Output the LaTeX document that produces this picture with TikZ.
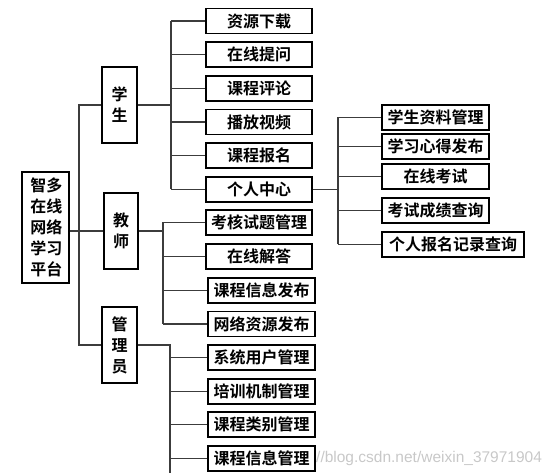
\documentclass[tikz,border=0pt]{standalone}
\usepackage{fontspec}
\newfontfamily\cjk{Noto Sans CJK SC}[BoldFont={Noto Sans CJK SC Bold}]
\setsansfont{Liberation Sans}
\definecolor{linegray}{RGB}{60,60,60}
\definecolor{wmgray}{RGB}{200,200,200}
\tikzset{
  box/.style={draw=black, line width=1.3pt, fill=white, inner sep=0pt, minimum height=25pt,
    font=\cjk\bfseries\fontsize{16}{21}\selectfont, text=black},
  vbox/.style={box, align=center, text width=30pt},
  conn/.style={draw=linegray, line width=1.4pt},
}
\begin{document}
\begin{tikzpicture}[x=1pt,y=-1pt]
\useasboundingbox (0,0) rectangle (560,473);
\clip (0,0) rectangle (560,473);
% watermark
\node[anchor=west, font=\sffamily\fontsize{15.5}{18}\selectfont, text=wmgray, inner sep=0pt] (wm) at (316,458) {//blog.csdn.net/weixin\_37971904};
% main nodes
\node[vbox, minimum width=47pt, minimum height=111pt] (root) at (45.5,227.5) {智多\\在线\\网络\\学习\\平台};
\node[vbox, minimum width=35pt, minimum height=76pt] (stu) at (119.5,105) {学\\生};
\node[vbox, minimum width=34pt, minimum height=76pt] (tea) at (121,231) {教\\师};
\node[vbox, minimum width=35pt, minimum height=76pt] (adm) at (119.5,345) {管\\理\\员};
% student children
\node[box, minimum width=106pt] (s1) at (259,21) {资源下载};
\node[box, minimum width=106pt] (s2) at (259,54.5) {在线提问};
\node[box, minimum width=106pt] (s3) at (259,88.5) {课程评论};
\node[box, minimum width=106pt] (s4) at (259,122) {播放视频};
\node[box, minimum width=106pt] (s5) at (259,155.5) {课程报名};
\node[box, minimum width=106pt] (s6) at (259,189.5) {个人中心};
% teacher children
\node[box, minimum width=106pt] (t1) at (259,222.5) {考核试题管理};
\node[box, minimum width=106pt] (t2) at (259,256.5) {在线解答};
\node[box, minimum width=107pt] (t3) at (261.5,290.5) {课程信息发布};
\node[box, minimum width=107pt] (t4) at (261.5,324) {网络资源发布};
% admin children
\node[box, minimum width=107pt] (a1) at (261.5,357.5) {系统用户管理};
\node[box, minimum width=107pt] (a2) at (261.5,391.5) {培训机制管理};
\node[box, minimum width=107pt] (a3) at (261.5,424.5) {课程类别管理};
\node[box, minimum width=107pt] (a4) at (261.5,458.5) {课程信息管理};
% personal center children
\node[box, minimum width=107pt] (p1) at (435.5,117.5) {学生资料管理};
\node[box, minimum width=107pt] (p2) at (435.5,146.5) {学习心得发布};
\node[box, minimum width=107pt] (p3) at (435.5,176.5) {在线考试};
\node[box, minimum width=107pt] (p4) at (435.5,210.5) {考试成绩查询};
\node[box, minimum width=142pt] (p5) at (453,244.5) {个人报名记录查询};
% branch coordinates
\coordinate (tx) at (79,0);
\coordinate (sb) at (171,0);
\coordinate (tb) at (163,0);
\coordinate (ab) at (170,0);
\coordinate (abot) at (170,480);
\coordinate (pb) at (338,0);
% trunk
\draw[conn] (tea.west) -- (tea.west -| root.east);
\draw[conn] (stu.west) -- (stu.west -| tx) -- (adm.west -| tx) -- (adm.west);
% student branch
\draw[conn] (stu.east) -- (stu.east -| sb);
\draw[conn] (s1.west -| sb) -- (s6.west -| sb);
\foreach \n in {s1,s2,s3,s4,s5,s6} \draw[conn] (\n.west -| sb) -- (\n.west);
% teacher branch
\draw[conn] (tea.east) -- (tea.east -| tb);
\draw[conn] (t1.west -| tb) -- (t4.west -| tb);
\foreach \n in {t1,t2,t3,t4} \draw[conn] (\n.west -| tb) -- (\n.west);
% admin branch
\draw[conn] (adm.east) -- (adm.east -| ab) -- (abot);
\foreach \n in {a1,a2,a3,a4} \draw[conn] (\n.west -| ab) -- (\n.west);
% personal center branch
\draw[conn] (s6.east) -- (s6.east -| pb);
\draw[conn] (p1.west -| pb) -- (p5.west -| pb);
\foreach \n in {p1,p2,p3,p4,p5} \draw[conn] (\n.west -| pb) -- (\n.west);
\end{tikzpicture}
\end{document}
